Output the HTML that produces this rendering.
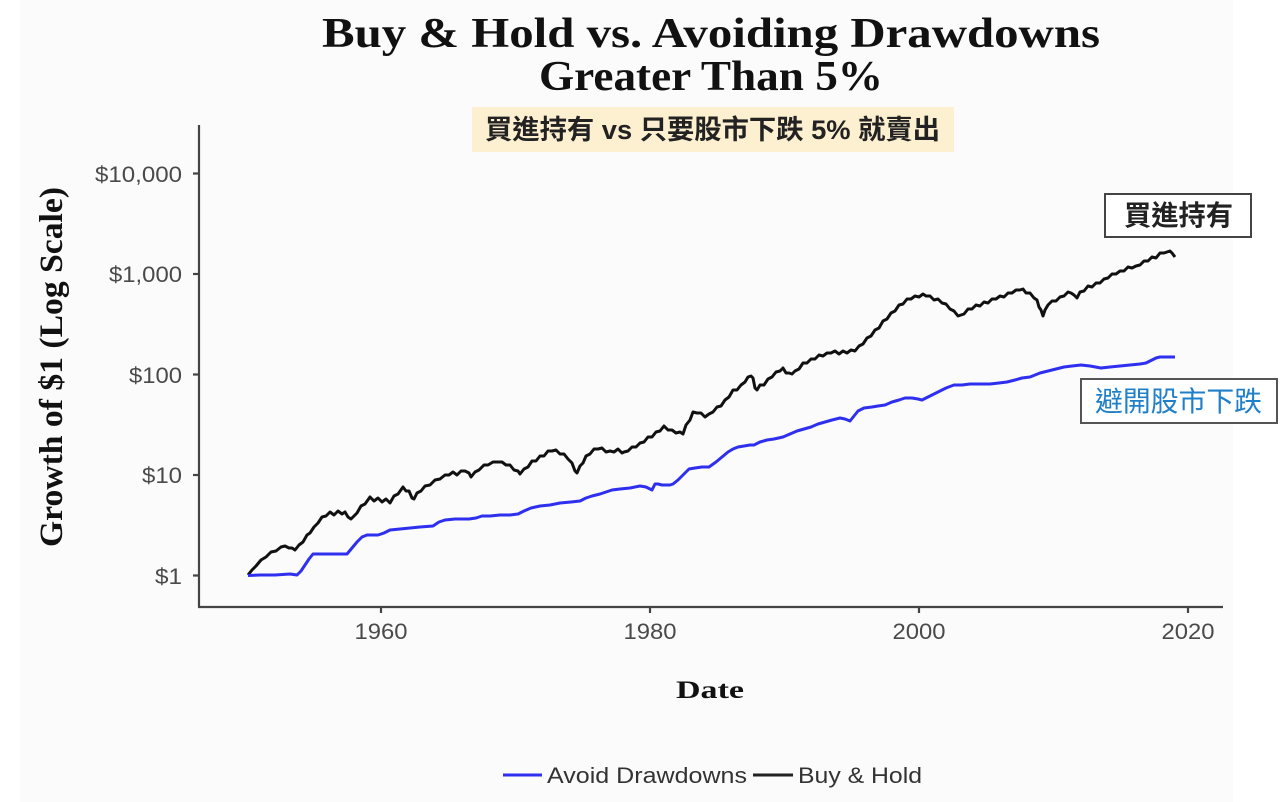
<!DOCTYPE html>
<html>
<head>
<meta charset="utf-8">
<style>
html,body{margin:0;padding:0;background:#ffffff;}
svg{display:block;}
</style>
</head>
<body>
<svg width="1280" height="802" viewBox="0 0 1280 802" xmlns="http://www.w3.org/2000/svg">
  <rect x="0" y="0" width="1280" height="802" fill="#ffffff"/>
  <rect x="20" y="0" width="1213" height="802" fill="#fafbfa"/>

  <!-- Title -->
  <text x="322" y="47" font-family="'Liberation Serif', serif" font-weight="bold" font-size="42" fill="#111" textLength="778" lengthAdjust="spacingAndGlyphs">Buy &amp; Hold vs. Avoiding Drawdowns</text>
  <text x="539" y="90" font-family="'Liberation Serif', serif" font-weight="bold" font-size="42" fill="#111" textLength="344" lengthAdjust="spacingAndGlyphs">Greater Than 5%</text>

  <!-- Subtitle box -->
  <rect x="472" y="107" width="482" height="45" fill="#fdf0d0"/>
  <text x="485" y="139" font-family="'Liberation Sans', 'Noto Sans CJK TC', sans-serif" font-weight="bold" font-size="27" fill="#222" textLength="455" lengthAdjust="spacingAndGlyphs">買進持有 vs 只要股市下跌 5% 就賣出</text>

  <!-- Axes -->
  <line x1="199" y1="125" x2="199" y2="607" stroke="#444" stroke-width="2.2"/>
  <line x1="198" y1="607" x2="1223" y2="607" stroke="#444" stroke-width="2.2"/>

  <!-- Y ticks -->
  <g stroke="#444" stroke-width="2.2">
    <line x1="193" y1="173.5" x2="199" y2="173.5"/>
    <line x1="193" y1="274" x2="199" y2="274"/>
    <line x1="193" y1="374.5" x2="199" y2="374.5"/>
    <line x1="193" y1="475" x2="199" y2="475"/>
    <line x1="193" y1="575.5" x2="199" y2="575.5"/>
  </g>
  <g font-family="'Liberation Sans', sans-serif" font-size="22" fill="#4a4a4a" text-anchor="end">
    <text x="182" y="182" textLength="87" lengthAdjust="spacingAndGlyphs">$10,000</text>
    <text x="182" y="282" textLength="73" lengthAdjust="spacingAndGlyphs">$1,000</text>
    <text x="182" y="383" textLength="53" lengthAdjust="spacingAndGlyphs">$100</text>
    <text x="182" y="483" textLength="40" lengthAdjust="spacingAndGlyphs">$10</text>
    <text x="182" y="584" textLength="27" lengthAdjust="spacingAndGlyphs">$1</text>
  </g>

  <!-- X ticks -->
  <g stroke="#444" stroke-width="2.2">
    <line x1="381" y1="607" x2="381" y2="613"/>
    <line x1="650" y1="607" x2="650" y2="613"/>
    <line x1="919" y1="607" x2="919" y2="613"/>
    <line x1="1188" y1="607" x2="1188" y2="613"/>
  </g>
  <g font-family="'Liberation Sans', sans-serif" font-size="22" fill="#4a4a4a" text-anchor="middle">
    <text x="381" y="639" textLength="53" lengthAdjust="spacingAndGlyphs">1960</text>
    <text x="650" y="639" textLength="53" lengthAdjust="spacingAndGlyphs">1980</text>
    <text x="919" y="639" textLength="53" lengthAdjust="spacingAndGlyphs">2000</text>
    <text x="1188" y="639" textLength="53" lengthAdjust="spacingAndGlyphs">2020</text>
  </g>

  <!-- Axis titles -->
  <text x="676" y="698" font-family="'Liberation Serif', serif" font-weight="bold" font-size="25" fill="#111" textLength="68" lengthAdjust="spacingAndGlyphs">Date</text>
  <text transform="translate(62,367) rotate(-90)" x="0" y="0" text-anchor="middle" font-family="'Liberation Serif', serif" font-weight="bold" font-size="33" fill="#111" textLength="360" lengthAdjust="spacingAndGlyphs">Growth of $1 (Log Scale)</text>

  <!-- Buy & Hold (black) -->
  <polyline fill="none" stroke="#111" stroke-width="3" stroke-linejoin="round" points="
248,575 252,570 256,566 261,560 266,557 271,552 276,551 281,547 285,546 289,548 292,548 295,550 299,545 303,542 307,535 310,533 314,527 318,523 322,517 326,516 330,512 334,515 338,511 342,514 345,512 348,517 351,519 353,517 357,513 361,506 365,504 370,497 374,501 378,498 382,502 386,499 390,503 394,496 398,494 403,487 406,491 409,491 412,498 414,499 417,493 421,491 425,486 430,485 435,480 440,479 445,475 449,475 453,472 457,475 461,471 465,471 469,473 471,477 475,472 479,470 484,465 488,465 493,462 498,462 502,462 506,465 510,465 514,470 518,471 520,474 524,469 528,467 532,461 536,461 540,456 544,456 548,451 552,451 556,450 560,454 564,454 568,459 572,463 575,471 577,473 580,466 583,463 586,456 590,454 594,449 598,449 602,448 606,452 610,451 614,452 618,449 622,453 624,452 628,451 632,447 636,447 640,443 644,442 648,437 652,437 656,432 660,431 664,426 668,430 672,430 676,433 680,432 683,434 686,425 690,420 693,412 697,413 701,413 705,417 709,414 713,412 717,407 721,406 725,400 729,397 733,390 737,390 741,385 745,382 748,377 751,376 753,378 755,388 757,390 760,385 764,385 768,379 772,377 776,372 780,371 783,368 786,373 789,373 792,374 795,371 799,369 803,363 807,363 811,359 815,359 819,355 823,356 827,353 831,353 835,351 839,354 843,351 847,353 851,350 855,351 859,346 863,344 867,338 871,336 875,330 879,328 883,321 887,319 891,313 895,311 899,305 903,304 907,299 911,299 915,296 919,297 923,294 926,296 930,296 934,300 938,299 942,303 946,304 950,309 954,311 958,316 961,315 964,314 968,309 972,309 976,305 980,306 984,302 988,303 992,299 996,299 1000,296 1004,297 1008,293 1012,293 1016,290 1020,290 1023,289 1026,293 1030,293 1034,298 1037,300 1039,307 1041,310 1043,316 1045,310 1048,305 1052,301 1056,301 1060,297 1064,296 1068,292 1071,293 1074,295 1077,298 1080,292 1084,291 1088,286 1092,287 1096,283 1100,283 1104,279 1108,278 1112,274 1116,274 1120,271 1124,271 1128,267 1132,268 1136,266 1140,265 1144,261 1148,261 1152,257 1156,258 1160,253 1164,253 1167,252 1170,251 1172,253 1175,257"/>

  <!-- Avoid Drawdowns (blue) -->
  <polyline fill="none" stroke="#2f2ff0" stroke-width="3" stroke-linejoin="round" points="
248,575.5 260,575 275,575 290,574 297,575 301,571 305,565 309,559 313,554 320,554 330,554 340,554 347,554 352,548 357,542 362,537 367,535 378,535 384,533 390,530 400,529 410,528 420,527 433,526 439,522 445,520 455,519 469,519 476,518 482,516 490,516 500,515 510,515 518,514 524,511 531,508 540,506 550,505 560,503 571,502 580,501 586,498 592,496 600,494 606,492 612,490 620,489 630,488 640,486 646,487 650,489 652,490 655,484 658,484 662,485 666,485 670,485 673,484 678,480 684,474 689,469 695,468 702,467 709,467 716,462 722,457 728,452 733,449 738,447 744,446 750,445 754,445 760,442 767,440 774,439 783,437 790,434 797,431 804,429 811,427 818,424 825,422 832,420 840,418 845,419 850,421 854,416 858,411 864,408 872,407 878,406 885,405 892,402 899,400 905,398 912,398 918,399 922,400 928,397 934,394 940,391 946,388 954,385 962,385 970,384 980,384 990,384 999,383 1007,382 1015,380 1022,378 1030,377 1040,373 1048,371 1056,369 1064,367 1072,366 1081,365 1090,366 1101,368 1110,367 1120,366 1130,365 1140,364 1146,363 1152,360 1156,358 1160,357 1166,357 1175,357"/>

  <!-- Label boxes -->
  <rect x="1105" y="194" width="146" height="43" fill="#ffffff" stroke="#444" stroke-width="2"/>
  <text x="1124" y="225" font-family="'Liberation Sans', 'Noto Sans CJK TC', sans-serif" font-weight="bold" font-size="28" fill="#222" textLength="109" lengthAdjust="spacingAndGlyphs">買進持有</text>

  <rect x="1081" y="379" width="196" height="44" fill="#ffffff" stroke="#555" stroke-width="2"/>
  <text x="1095" y="411" font-family="'Liberation Sans', 'Noto Sans CJK TC', sans-serif" font-size="28" fill="#1f7fc8" textLength="167" lengthAdjust="spacingAndGlyphs">避開股市下跌</text>

  <!-- Legend -->
  <line x1="503" y1="775" x2="542" y2="775" stroke="#2f2ff0" stroke-width="3"/>
  <text x="547" y="783" font-family="'Liberation Sans', sans-serif" font-size="22" fill="#333" textLength="200" lengthAdjust="spacingAndGlyphs">Avoid Drawdowns</text>
  <line x1="753" y1="775" x2="793" y2="775" stroke="#222" stroke-width="3"/>
  <text x="798" y="783" font-family="'Liberation Sans', sans-serif" font-size="22" fill="#333" textLength="124" lengthAdjust="spacingAndGlyphs">Buy &amp; Hold</text>
</svg>
</body>
</html>
